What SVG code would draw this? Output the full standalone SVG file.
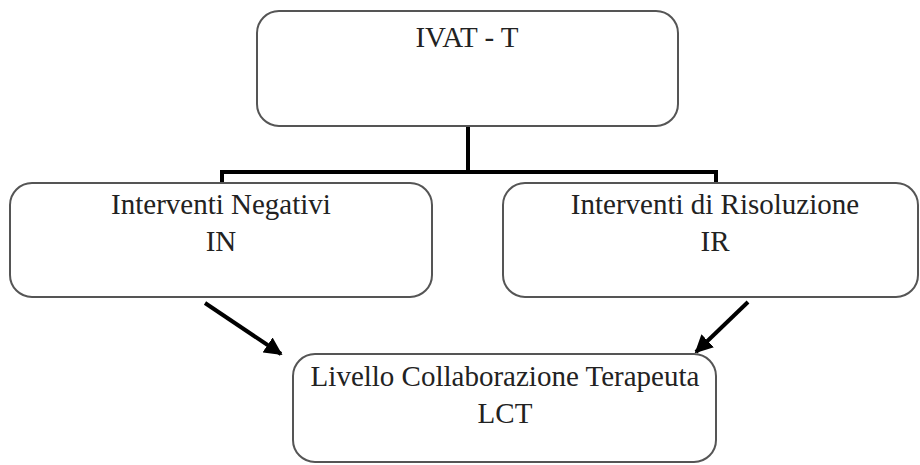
<svg xmlns="http://www.w3.org/2000/svg" width="920" height="465" viewBox="0 0 920 465">
<style>
.box{fill:#fff;stroke:#555;stroke-width:2}
.t{font-family:"Liberation Serif","Times New Roman",serif;font-size:29px;fill:#222;text-anchor:middle}
.conn{fill:none;stroke:#000;stroke-width:4}
</style>
<defs>
<marker id="ah" viewBox="0 0 10 10" refX="9" refY="5" markerWidth="4.5" markerHeight="4.5" orient="auto" markerUnits="strokeWidth">
<path d="M0,0 L10,5 L0,10 z" fill="#000"/>
</marker>
</defs>
<rect width="920" height="465" fill="#fff"/>
<g id="connectors">
<path class="conn" d="M468,126 V172 M222,172 H716 M222,170 V183 M716,170 V183"/>
<line class="conn" x1="205" y1="303" x2="281" y2="354" marker-end="url(#ah)"/>
<line class="conn" x1="748" y1="302" x2="696" y2="352" marker-end="url(#ah)"/>
</g>
<g id="ivat">
<rect class="box" x="257" y="11" width="421" height="115" rx="22"/>
<text class="t" x="467" y="47">IVAT - T</text>
</g>
<g id="in">
<rect class="box" x="10" y="183" width="422" height="114" rx="22"/>
<text class="t" x="221" y="214">Interventi Negativi</text>
<text class="t" x="221" y="251">IN</text>
</g>
<g id="ir">
<rect class="box" x="503" y="183" width="415" height="114" rx="22"/>
<text class="t" x="715" y="214">Interventi di Risoluzione</text>
<text class="t" x="715" y="251">IR</text>
</g>
<g id="lct">
<rect class="box" x="293" y="354" width="423" height="108" rx="22"/>
<text class="t" x="505" y="386">Livello Collaborazione Terapeuta</text>
<text class="t" x="505" y="423">LCT</text>
</g>
</svg>
